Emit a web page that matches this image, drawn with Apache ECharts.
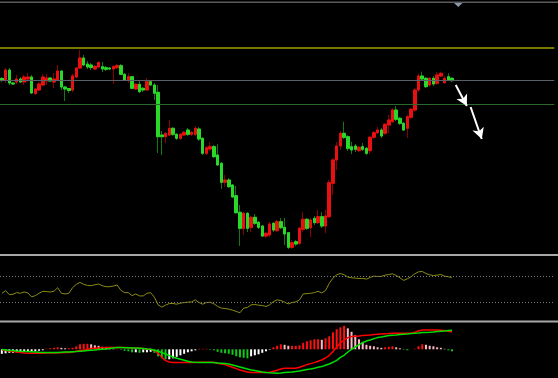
<!DOCTYPE html>
<html>
<head>
<meta charset="utf-8">
<script src="https://cdn.jsdelivr.net/npm/echarts@6/dist/echarts.min.js"></script>
<style>
html, body { margin: 0; padding: 0; background: #000; }
#chart { width: 558px; height: 378px; }
</style>
</head>
<body>
<div id="chart"></div>
<script>
// bars shown on screen, plus empty space on the right
const barCount = 149

const opens = [1221.5, 1220, 1230, 1217, 1218, 1221, 1218, 1221, 1223, 1206.5, 1210, 1215, 1219, 1222, 1218, 1219.5, 1229, 1213, 1211.5, 1210,
    1223, 1232, 1242, 1236, 1235, 1231, 1233, 1233.3, 1232.3, 1232, 1231, 1232.3, 1234.3, 1225.7, 1220, 1223.3, 1211, 1215.7, 1211.7, 1210,
    1218.3, 1215, 1207.7, 1165, 1163.3, 1165, 1171.7, 1165.7, 1161.7, 1165, 1170, 1165.7, 1165.7, 1171, 1161.7, 1146.7, 1151, 1153.3, 1145, 1136.7,
    1117.7, 1120, 1115, 1104.3, 1087.7, 1071.7, 1086.7, 1072.7, 1082.7, 1077.7, 1074, 1064, 1065, 1076.7, 1069.3, 1078.3, 1072.7, 1067.3, 1052.7, 1058.3,
    1056.7, 1070.7, 1080.7, 1072.3, 1081.7, 1077.3, 1083.3, 1074, 1083.3, 1116.7, 1140, 1154, 1166.7, 1163.3, 1153.3, 1154, 1149.3, 1153.3, 1151.7, 1149.3,
    1162.7, 1167.3, 1170, 1166.7, 1175, 1178.3, 1190, 1181.7, 1176.7, 1171.7, 1182.7, 1190, 1210, 1224, 1221.7, 1215, 1221.7, 1216.7, 1224, 1217.3,
    1223.3, 1221.7]
const closes = [1219.5, 1230, 1217, 1216, 1221, 1218, 1223, 1223, 1207, 1211, 1216, 1223, 1222, 1219, 1221, 1229, 1213, 1211, 1209.5, 1224,
    1232, 1242, 1235, 1233, 1232.5, 1233.5, 1237.5, 1231, 1230.7, 1231, 1233.3, 1234.3, 1225.7, 1220, 1223.3, 1211.7, 1215.7, 1208.3, 1210, 1218.3,
    1215, 1206.7, 1163.3, 1163.3, 1166.7, 1171.7, 1165.7, 1161.7, 1165.7, 1167.7, 1165.7, 1167.7, 1171.7, 1161, 1146.7, 1152.3, 1153.3, 1143.3, 1135, 1117.7,
    1120, 1113.3, 1103, 1087.3, 1071.7, 1086.7, 1071.7, 1082.7, 1076.7, 1072.7, 1064, 1066.7, 1076, 1070, 1078.3, 1072.3, 1066, 1052.7, 1057.3, 1056,
    1071.7, 1080.7, 1071.7, 1080, 1077.3, 1083.3, 1074, 1084, 1117.3, 1140, 1154, 1166.7, 1162.7, 1151.7, 1150, 1150.7, 1152.7, 1150.7, 1146.7, 1162.7,
    1167.3, 1170, 1164, 1175.7, 1180, 1190, 1180.7, 1176.7, 1170, 1183.3, 1190.7, 1210, 1224, 1221, 1213.3, 1221.7, 1216, 1225, 1226.7, 1221.7,
    1220, 1219.3]
const lows = [1218, 1217, 1215, 1215, 1216, 1217, 1215, 1218, 1206, 1205, 1209, 1214, 1215, 1218, 1212, 1219, 1210, 1199, 1207, 1208,
    1222, 1231, 1234, 1231, 1230, 1230, 1232, 1228, 1229, 1230, 1216, 1231, 1225, 1219, 1217, 1211, 1210, 1207, 1208, 1209,
    1214, 1200, 1147, 1145, 1156.7, 1164, 1164, 1160, 1160, 1164, 1164, 1164, 1164, 1159, 1145, 1145, 1149, 1142, 1134, 1111,
    1113, 1112, 1102, 1086, 1054, 1065, 1068, 1068, 1075, 1071, 1063, 1062, 1063, 1068, 1068, 1071, 1055, 1051, 1051, 1054,
    1055, 1068, 1070, 1063, 1075, 1076, 1072, 1066.7, 1082, 1105, 1130, 1150, 1161, 1149, 1146, 1148, 1148, 1149, 1145, 1146,
    1161, 1166, 1162, 1165, 1167, 1177, 1179, 1175, 1169, 1162, 1181, 1188, 1208, 1219, 1212, 1213, 1214, 1215, 1223, 1216,
    1219, 1218]
const highs = [1223, 1232, 1232, 1218, 1225, 1223, 1225, 1227, 1225, 1212, 1218, 1226, 1226, 1223, 1227, 1235, 1230, 1214, 1212, 1226,
    1233, 1250, 1245, 1239, 1237, 1235, 1239, 1238, 1234, 1233, 1235, 1236, 1236, 1227, 1227, 1224, 1217, 1220, 1213, 1222,
    1219, 1217, 1215, 1169, 1168, 1180, 1173, 1167, 1167, 1169, 1172, 1169, 1174.3, 1173, 1163, 1154, 1158, 1155, 1155.7, 1138,
    1125, 1122, 1116, 1114, 1095, 1088, 1088, 1084, 1086, 1079, 1075, 1068, 1078, 1078, 1080, 1082, 1082, 1068, 1060, 1060,
    1073, 1088, 1082, 1082, 1084, 1090, 1088, 1090, 1120, 1142, 1158, 1169, 1178.3, 1165, 1158.3, 1156, 1154, 1157, 1153, 1164,
    1169, 1173, 1172, 1177, 1185, 1192, 1194, 1183, 1178, 1185, 1192, 1212, 1226.7, 1228.3, 1223, 1223, 1224, 1228, 1228.3, 1224,
    1226.7, 1223]

// price levels drawn as horizontal lines: resistance, pivot, support
const levels = [1252.5, 1219.5, 1195.5]
const levelColors = ['#a2a200', '#5a6068', '#2c6a2c']

// hand-drawn arrows: [bar, price] from -> to
const arrowFrom = [[122.3, 1215], [125.9, 1193]]
const arrowTo = [[125.3, 1194], [128.6, 1161]]

const rsi = [43.5, 47.5, 41.5, 42, 44.5, 43.5, 45.5, 44, 38, 40, 43.5, 46.5, 46, 45.5, 46.5, 52, 43.5, 42.5, 43.5, 52,
    57, 60, 57, 55.5, 55, 56.5, 57.5, 55, 53.5, 53.5, 54.5, 56, 48, 44.5, 44.5, 40, 42.5, 39.5, 39.5, 43.5,
    44.5, 37.5, 26, 22.5, 25.5, 28, 28, 27, 28.5, 29.5, 30, 30.5, 33.5, 29.5, 27, 29.5, 30, 27.5, 23.5, 21,
    20.5, 19.5, 18, 16, 14, 21, 22, 26, 26.5, 25.5, 25, 23.5, 26, 31, 33.5, 32.5, 30, 27.5, 29.5, 30.5,
    33.5, 42.5, 43, 43.5, 44.5, 46.5, 44, 47.5, 58.5, 66.5, 71.5, 73.5, 71.5, 68, 67, 66.5, 66, 66, 65, 67.5,
    69.5, 69, 69, 71, 72, 73, 70.5, 67, 63, 65.5, 68.5, 73, 76, 76.5, 73.5, 71.5, 70.5, 71, 72, 69.5,
    68.5, 67.5]
const rsiLevels = [70, 30]

const hist = [-4.5, -4, -3.5, -3.5, -3, -3, -2.5, -2.5, -2, -2, -1.5, -1,
    0.5, 1, 1.5, 2, 1.5, 1, 1, 1.5,
    3, 5, 5.5, 5.5, 5, 4, 3.5, 2.5, 2, 1, 0.5, 0.5,
    -0.5, -1.5, -2, -3, -3, -3.5, -3, -3, -2.5,
    -3.5, -7, -9, -10, -10, -9, -7.5, -6, -4.5, -3, -2, -1,
    0.5, 0.5, 0.5,
    -0.5, -1, -2.5, -3.5, -4, -4.5, -5.5, -7, -8, -8.5, -9, -7, -6, -5, -3.5, -2, -0.5,
    2, 3.5, 5, 4.5, 3.5, 3.5, 3.5, 4,
    6.5, 8, 9, 10, 10, 9.5, 11, 13, 17, 20, 22, 23.5,
    21, 17.5, 14, 10, 7.5, 4.5, 3.5, 3, 2, 1.5, 2, 2.5, 3, 2, 1, -0.5, -1, 0, 0.5, 3, 5, 4.5, 3.5, 3, 2, 1.5, 0.5, -1, -2]
const macdFast = [-0.7, -1.3, -1.7, -2.3, -2.7, -3.3, -3.7,
    -4, -4, -4, -4, -4,
    -3.8, -3.7, -3.7, -3.5, -3.5, -3.3, -3.2,
    -2.7, -2, -1.3, -0.7, 0, 0.7, 1, 1.3, 1.5,
    1.7, 1.7, 1.7, 1.7, 1.7, 1.7,
    1.5, 1.3, 1.2, 1, 0.7, 0.3, 0,
    -1.3, -4, -8, -11.3, -12.7,
    -13.3, -13.3, -13.3, -13.3, -13.3, -13.3, -13.3,
    -13, -13, -13, -13,
    -13.3, -14, -14.7, -15.3, -16.7, -18, -19.3, -20.7, -21.7, -22.7,
    -23.3, -23.3, -23.3, -23.3, -23.3,
    -23, -22, -21, -19.7,
    -19, -19, -19, -19,
    -18, -16.7, -15.3, -14.3, -13.3, -12, -10.7, -8.7, -6, -2.3, 2, 6.3, 9.3, 11.7,
    12.7, 13, 13.3, 13.7, 14, 14.3, 14.7, 15, 15.3, 15.5, 15.7,
    16, 16, 16, 16, 16, 16,
    17, 18.3,
    19.3, 19.3, 19.3, 19.3, 19.3,
    19, 18.7, 18, 17.3]
const macdSlow = [-0.2, -0.7, -1.2, -1.3, -1.7, -2, -2.2, -2.3, -2.5, -2.7, -3, -3.2,
    -3.3, -3.3, -3.3,
    -3.2, -3, -2.8, -2.7, -2.5, -2.3, -2, -1.7, -1.3, -1, -0.7, -0.3, 0,
    0.3, 0.8, 1.3, 1.7,
    1.7, 1.5, 1.5, 1.3, 1.2, 1, 0.7, 0.3, 0,
    -1, -2, -3.3, -4.7, -6.3, -7.7, -9, -10, -11, -12, -12.7, -13, -13.2,
    -13.3, -13.3, -13.3, -13.3,
    -13.7, -14, -14.3, -14.7, -15.7, -16.7, -17.7, -18.7, -19.7, -20.7, -21.3, -22, -22.7, -23.2, -23.5, -23.7, -24,
    -23.8, -23.3, -23, -22.7, -22.3, -21.7, -21, -20.3, -19.7, -19, -18, -17.3, -16, -14.7, -13, -11, -8, -6, -2.7,
    0, 2.3, 4.7, 6.7, 8.3, 9.3, 10.7, 11.7, 12.3, 13, 13.7, 14, 14.3, 14.7, 15, 15.3, 15.8, 16, 16.3, 16.7, 16.8, 17, 17.3, 17.7, 18, 18.3, 18.7, 19]

let cats = []
for (let i = 0; i < barCount; i++) cats.push(String(i + 1))

let candles = []
let bodies = []
opens.forEach((o, i) => {
    let c = closes[i]
    candles.push([o, c, lows[i], highs[i]])
    bodies.push([o, c, Math.min(o, c), Math.max(o, c)])
})

function histColor(p) {
    let i = p.dataIndex
    let v = hist[i]
    let prev = i > 0 ? hist[i - 1] : v
    if (v >= 0) return v >= prev ? '#ff1010' : '#ffb8c4'
    return v < prev ? '#10c818' : '#ffffff'
}

let hidden = { show: false }
function xAx(idx) {
    return { type: 'category', gridIndex: idx, data: cats, boundaryGap: true, axisLine: hidden, axisTick: hidden, axisLabel: hidden, splitLine: hidden }
}
function yAx(idx, min, max) {
    return { type: 'value', gridIndex: idx, min: min, max: max, axisLine: hidden, axisTick: hidden, axisLabel: hidden, splitLine: hidden }
}

let option = {
    backgroundColor: '#000',
    animation: false,
    grid: [
        { left: 0, width: 554.3, top: 6, height: 247 },
        { left: 0, width: 554.3, top: 256, height: 66 },
        { left: 0, width: 554.3, top: 323, height: 55 }
    ],
    xAxis: [xAx(0), xAx(1), xAx(2)],
    yAxis: [yAx(0, 1047, 1294), yAx(1, 0, 100), yAx(2, -28.7, 26.3)],
    graphic: [
        { type: 'rect', shape: { x: 0, y: 1.5, width: 558, height: 1.5 }, style: { fill: '#5c5c5c' } },
        { type: 'polygon', shape: { points: [[454, 3], [462.5, 3], [458.3, 7]] }, style: { fill: '#8a96a8' } },
        { type: 'rect', shape: { x: 0, y: 254, width: 558, height: 2 }, style: { fill: '#a8a8a8' } },
        { type: 'rect', shape: { x: 0, y: 320.5, width: 558, height: 2 }, style: { fill: '#a8a8a8' } }
    ],
    series: [
        {
            name: 'wick',
            type: 'candlestick',
            data: candles,
            barWidth: 3,
            itemStyle: {
                color: '#8a0000',
                color0: '#0f7a0f',
                borderColor: '#8a0000',
                borderColor0: '#0f7a0f',
                borderWidth: 1
            },
            markLine: {
                silent: true,
                symbol: 'none',
                label: hidden,
                data: levels.map((v, i) => ({
                    yAxis: v,
                    lineStyle: { color: levelColors[i], width: i === 0 ? 1.5 : 1, type: 'solid', opacity: 1 },
                    emphasis: { disabled: true }
                }))
            }
        },
        {
            name: 'body',
            type: 'candlestick',
            data: bodies,
            barWidth: 3,
            itemStyle: {
                color: '#e81010',
                color0: '#2ad82a',
                borderColor: '#e81010',
                borderColor0: '#2ad82a',
                borderWidth: 1
            },
            markLine: {
                silent: true,
                symbol: ['none', 'arrow'],
                symbolSize: [9, 11],
                label: hidden,
                lineStyle: { color: '#ffffff', width: 2, type: 'solid' },
                data: arrowFrom.map((a, i) => [{ coord: a }, { coord: arrowTo[i] }])
            }
        },
        {
            name: 'RSI',
            type: 'line',
            xAxisIndex: 1,
            yAxisIndex: 1,
            data: rsi,
            showSymbol: false,
            lineStyle: { color: '#8c8c12', width: 1 },
            markLine: {
                silent: true,
                symbol: 'none',
                label: hidden,
                lineStyle: { color: '#7c7c7c', width: 1, type: [1, 2] },
                data: rsiLevels.map(v => ({ yAxis: v }))
            }
        },
        {
            name: 'hist',
            type: 'bar',
            xAxisIndex: 2,
            yAxisIndex: 2,
            data: hist,
            barWidth: 2,
            itemStyle: { color: histColor }
        },
        {
            name: 'fast',
            type: 'line',
            xAxisIndex: 2,
            yAxisIndex: 2,
            data: macdFast,
            showSymbol: false,
            lineStyle: { color: '#ff0000', width: 1.5 }
        },
        {
            name: 'slow',
            type: 'line',
            xAxisIndex: 2,
            yAxisIndex: 2,
            data: macdSlow,
            showSymbol: false,
            lineStyle: { color: '#00e000', width: 1.5 }
        }
    ]
}

var myChart = echarts.init(document.getElementById('chart'))
myChart.setOption(option)
window.addEventListener('resize', function() {
    myChart.resize()
})
</script>
</body>
</html>
